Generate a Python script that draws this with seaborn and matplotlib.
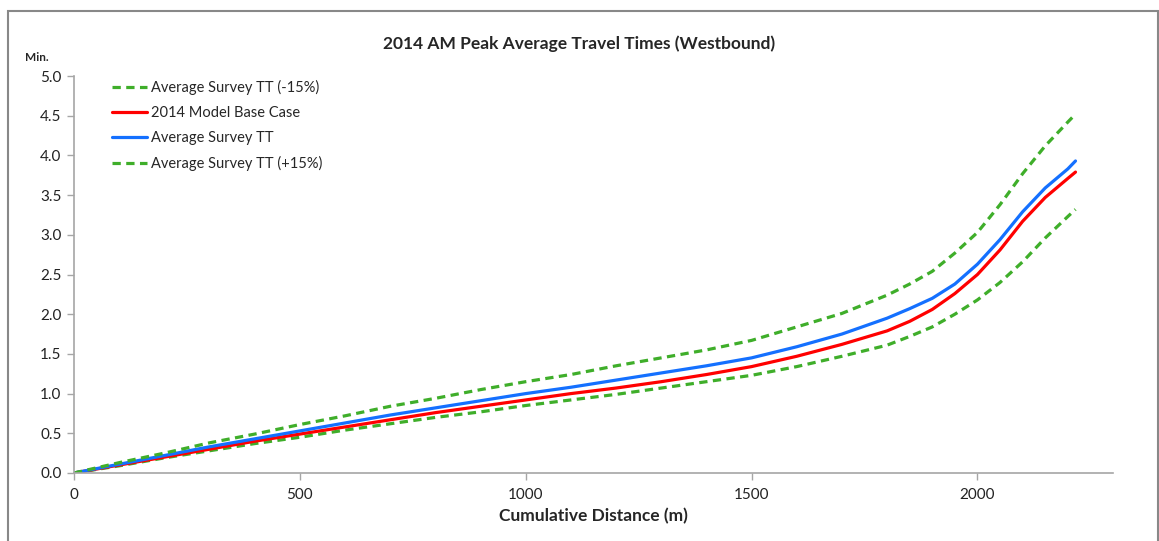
import numpy as np
import matplotlib
matplotlib.use("Agg")
import matplotlib.pyplot as plt
import seaborn as sns
from matplotlib.patches import Rectangle

# Values (cumulative distance in m, travel time in min)
distance = [0, 100, 200, 300, 400, 500, 600, 700, 800, 900, 1000, 1100,
            1200, 1300, 1400, 1500, 1600, 1700, 1800, 1850, 1900, 1950,
            2000, 2050, 2100, 2150, 2200, 2217]
survey_tt = [0, 0.11, 0.22, 0.33, 0.43, 0.53, 0.63, 0.73, 0.82, 0.91, 1.00, 1.08,
             1.17, 1.26, 1.35, 1.45, 1.59, 1.75, 1.95, 2.07, 2.20, 2.38,
             2.63, 2.94, 3.29, 3.59, 3.83, 3.93]
model_base = [0, 0.10, 0.20, 0.30, 0.40, 0.49, 0.58, 0.67, 0.76, 0.84, 0.92, 1.00,
              1.07, 1.15, 1.24, 1.34, 1.47, 1.62, 1.79, 1.91, 2.06, 2.26,
              2.50, 2.81, 3.17, 3.47, 3.71, 3.79]
survey_plus = [0, 0.13, 0.25, 0.38, 0.49, 0.61, 0.72, 0.84, 0.94, 1.05, 1.15, 1.24,
               1.35, 1.45, 1.55, 1.67, 1.84, 2.01, 2.24, 2.38, 2.54, 2.77,
               3.03, 3.38, 3.77, 4.12, 4.42, 4.52]
survey_minus = [0, 0.09, 0.19, 0.28, 0.37, 0.45, 0.54, 0.62, 0.70, 0.77, 0.85, 0.92,
                0.99, 1.07, 1.15, 1.23, 1.34, 1.47, 1.61, 1.72, 1.84, 2.00,
                2.18, 2.40, 2.66, 2.96, 3.23, 3.32]

sns.set_style("white")
plt.rcParams['font.family'] = ['Lato', 'DejaVu Sans']

green = '#3fae2a'
red = '#ff0000'
blue = '#1470ff'
grey = '#a6a6a6'
dash = (0, (2.6, 1.7))

fig = plt.figure(figsize=(11.59, 5.41), dpi=100)
ax = fig.add_axes([0.0638, 0.1257, 0.8965, 0.7338])

sns.lineplot(x=distance, y=survey_minus, ax=ax, color=green, lw=2.3,
             linestyle=dash, label='Average Survey TT (-15%)')
sns.lineplot(x=distance, y=model_base, ax=ax, color=red, lw=2.3,
             label='2014 Model Base Case')
sns.lineplot(x=distance, y=survey_tt, ax=ax, color=blue, lw=2.3,
             label='Average Survey TT')
sns.lineplot(x=distance, y=survey_plus, ax=ax, color=green, lw=2.3,
             linestyle=dash, label='Average Survey TT (+15%)')

ax.set_xlim(0, 2300)
ax.set_ylim(0, 5)
ax.set_xticks([0, 500, 1000, 1500, 2000])
ax.set_yticks(np.arange(0, 5.01, 0.5))
ax.set_yticklabels([f"{v:.1f}" for v in np.arange(0, 5.01, 0.5)])

for s in ['top', 'right']:
    ax.spines[s].set_visible(False)
for s in ['left', 'bottom']:
    ax.spines[s].set_color(grey)
    ax.spines[s].set_linewidth(1.2)
ax.tick_params(axis='both', direction='out', length=5, width=1, color=grey,
               labelsize=11, labelcolor='#222222', pad=4, left=True, bottom=True)
ax.tick_params(axis='x', pad=6)

ax.set_xlabel('Cumulative Distance (m)', fontsize=12.5, fontweight='bold', labelpad=4)
ax.set_ylabel('')
fig.text(0.5, 0.92, '2014 AM Peak Average Travel Times (Westbound)',
         ha='center', va='center', fontsize=12.5, fontweight='bold')
fig.text(0.022, 0.893, 'Min.', ha='left', va='center', fontsize=8.5, fontweight='bold')

ax.legend(loc='upper left', bbox_to_anchor=(0.024, 1.022), frameon=False,
          fontsize=10.5, handlelength=2.4, handletextpad=0.3, labelspacing=0.75)

# chart border like the Excel frame
fig.patches.append(Rectangle((8 / 1159, -0.05), 1150 / 1159, 1 - 11 / 541 + 0.05,
                             transform=fig.transFigure, fill=False,
                             edgecolor='#888888', lw=1.5))

fig.savefig('out.png', dpi=100)
